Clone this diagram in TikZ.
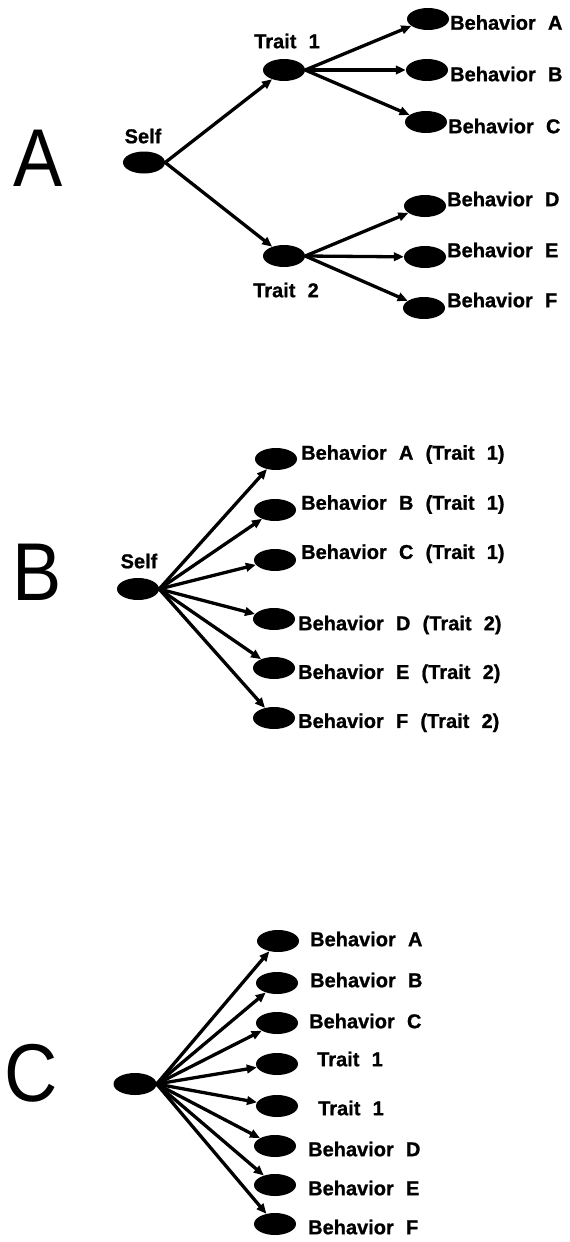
\documentclass[tikz,border=0pt]{standalone}
\usepackage{fontspec}
\setmainfont{Liberation Sans}
\newfontfamily\labfont{Liberation Sans}[WordSpace=2.2,FakeBold=1]
\usetikzlibrary{shapes.geometric,arrows.meta}
\begin{document}
\begin{tikzpicture}[x=1pt,y=-1pt,
  dot/.style={ellipse,fill=black,draw=none,inner sep=0pt,minimum width=42pt,minimum height=22pt},
  lab/.style={anchor=base west,yshift=-7.2pt,inner sep=0pt,font=\labfont\bfseries\fontsize{20}{22}\selectfont},
  clab/.style={anchor=base,yshift=-7.2pt,inner sep=0pt,font=\labfont\bfseries\fontsize{20}{22}\selectfont},
  big/.style={anchor=center,inner sep=0pt,xscale=0.9,font=\fontsize{82}{86}\selectfont},
  arr/.style={line width=3.3pt,-{Triangle[length=10pt,width=8.5pt]}}]
\useasboundingbox (0,0) rectangle (570,1242);
% ---------------- Panel A
\node[big] (bigA) at (38,158) {A};
\node[dot] (aself) at (144,162.5) {};
\node[clab] (aselfl) at (143,136) {Self};
\node[dot] (at1) at (284,70) {};
\node[clab] (at1l) at (287,41) {Trait 1};
\node[dot] (at2) at (284,256) {};
\node[clab] (at2l) at (286,290) {Trait 2};
\node[dot] (aA) at (428,19) {};
\node[dot] (aB) at (427,70) {};
\node[dot] (aC) at (426,122) {};
\node[dot] (aD) at (425,206) {};
\node[dot] (aE) at (425,257) {};
\node[dot] (aF) at (424,308) {};
\node[lab] (aAl) at (450,22.5) {Behavior A};
\node[lab] (aBl) at (450,74) {Behavior B};
\node[lab] (aCl) at (448,126) {Behavior C};
\node[lab] (aDl) at (447,199) {Behavior D};
\node[lab] (aEl) at (447,250) {Behavior E};
\node[lab] (aFl) at (447,300) {Behavior F};
\draw[arr] (aself.east) -- (at1);
\draw[arr] (aself.east) -- (at2);
\foreach \t in {aA,aB,aC} \draw[arr] (at1.east) -- (\t);
\foreach \t in {aD,aE,aF} \draw[arr] (at2.east) -- (\t);
% ---------------- Panel B
\node[big] (bigB) at (37,572) {B};
\node[dot] (bself) at (138,589) {};
\node[clab] (bselfl) at (139,561) {Self};
\node[dot] (bA) at (276,459) {};
\node[dot] (bB) at (275,510) {};
\node[dot] (bC) at (275,560) {};
\node[dot] (bD) at (274,619) {};
\node[dot] (bE) at (274,668) {};
\node[dot] (bF) at (274,718) {};
\node[lab] (bAl) at (301,452.5) {Behavior A (Trait 1)};
\node[lab] (bBl) at (301,502.5) {Behavior B (Trait 1)};
\node[lab] (bCl) at (301,551.7) {Behavior C (Trait 1)};
\node[lab] (bDl) at (298,623) {Behavior D (Trait 2)};
\node[lab] (bEl) at (298,671.7) {Behavior E (Trait 2)};
\node[lab] (bFl) at (298,720.7) {Behavior F (Trait 2)};
\foreach \t in {bA,bB,bC,bD,bE,bF} \draw[arr] (bself.east) -- (\t);
% ---------------- Panel C
\node[big] (bigC) at (31,1073.5) {C};
\node[dot,minimum width=43pt] (cself) at (135,1084) {};
\node[dot] (cA) at (278,941) {};
\node[dot] (cB) at (277,983) {};
\node[dot] (cC) at (277,1023) {};
\node[dot] (cT1) at (277,1064) {};
\node[dot] (cT2) at (277,1106) {};
\node[dot] (cD) at (275,1146) {};
\node[dot] (cE) at (275,1185) {};
\node[dot] (cF) at (275,1224) {};
\node[lab] (cAl) at (310,939) {Behavior A};
\node[lab] (cBl) at (310,980) {Behavior B};
\node[lab] (cCl) at (309,1021) {Behavior C};
\node[lab] (cT1l) at (317,1059) {Trait 1};
\node[lab] (cT2l) at (318,1108) {Trait 1};
\node[lab] (cDl) at (308,1149) {Behavior D};
\node[lab] (cEl) at (308,1188) {Behavior E};
\node[lab] (cFl) at (308,1227) {Behavior F};
\foreach \t in {cA,cB,cC,cT1,cT2,cD,cE,cF} \draw[arr] (cself.east) -- (\t);
\end{tikzpicture}
\end{document}
